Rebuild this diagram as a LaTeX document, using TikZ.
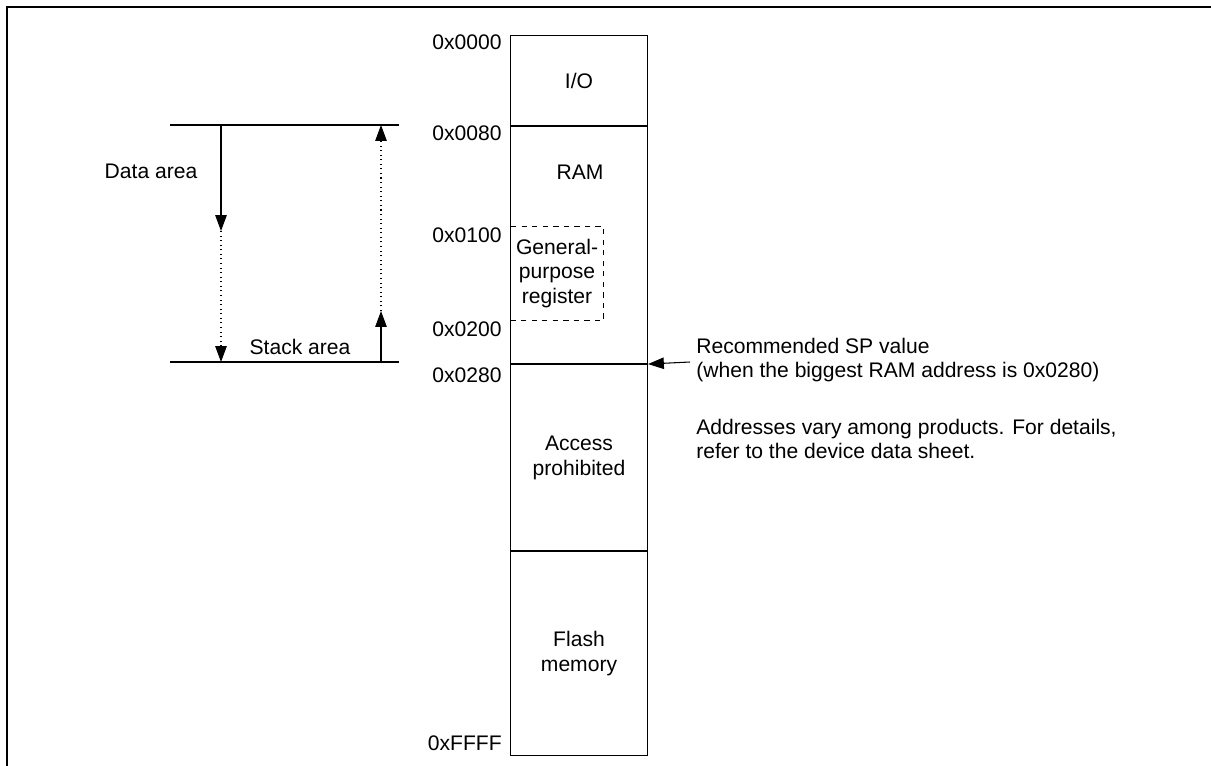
\documentclass[tikz,border=0pt]{standalone}
\usepackage{fontspec}
\setmainfont{Liberation Sans}
\usetikzlibrary{arrows.meta}

\begin{document}
\begin{tikzpicture}[x=0.02cm, y=-0.02cm,
    every node/.style={font=\fontsize{12}{14.2}\selectfont, inner sep=0pt},
    region/.style={draw, line width=0.6pt, minimum width=2.74cm, anchor=north west},
    addr/.style={anchor=east},
    note/.style={anchor=west, align=left, font=\fontsize{12}{13.2}\selectfont},
    tip/.style={-{Triangle[length=9pt,width=6.5pt]}, line width=0.6pt}]
        \useasboundingbox (0,0) rectangle (1211,765);
        \clip (0,0) rectangle (1211,765);
        % Frame
        \draw[line width=1.7pt] (7,790) -- (7,7) -- (1230,7);
        % Memory map
        \node[region, minimum height=1.8cm] (io) at (510,35) {};
        \node[region, minimum height=4.74cm] (ram) at (io.south west) {};
        \node[region, minimum height=3.72cm] (prohib) at (ram.south west) {};
        \node[region, minimum height=4.08cm] (flash) at (prohib.south west) {};
        \node at (io.center) {I/O};
        \node at (580,172) {RAM};
        \node[align=center] at (prohib.center) {Access\\prohibited};
        \node[align=center] at (flash.center) {Flash\\memory};
        % General-purpose register
        \node[draw, dashed, line width=0.6pt, minimum width=1.86cm, minimum height=1.88cm,
              anchor=north west, align=center] (gpr) at (510,226)
              {General-\\purpose\\register};
        % Addresses
        \node[addr] (a0000) at (502,42) {0x0000};
        \node[addr] (a0080) at (502,133) {0x0080};
        \node[addr] (a0100) at (502,235) {0x0100};
        \node[addr] (a0200) at (502,329) {0x0200};
        \node[addr] (a0280) at (502,375) {0x0280};
        \node[addr] (affff) at (502,743) {0xFFFF};
        % Data area and stack area
        \coordinate (topl) at (170,125);
        \coordinate (topr) at (399,125);
        \coordinate (botl) at (170,362);
        \coordinate (botr) at (399,362);
        \draw[line width=0.6pt] (topl) -- (topr);
        \draw[line width=0.6pt] (botl) -- (botr);
        \coordinate (dmid) at (221,231);
        \coordinate (smid) at (381,311);
        \draw[tip] (221,125) -- (dmid);
        \draw[tip, dotted] (dmid) -- (221,362);
        \draw[tip] (381,362) -- (smid);
        \draw[tip, dotted] (smid) -- (381,125);
        \node (data) at (151,171) {Data area};
        \node (stack) at (300,347) {Stack area};
        % Recommended SP value
        \coordinate (sp) at (690,362);
        \draw[tip] (sp) -- (prohib.north east);
        \node[note] (spnote) at (696,360)
              {Recommended SP value\\(when the biggest RAM address is 0x0280)};
        \node[note] (addrnote) at (696,439)
              {Addresses vary among products. For details,\\refer to the device data sheet.};
      \end{tikzpicture}
\end{document}
